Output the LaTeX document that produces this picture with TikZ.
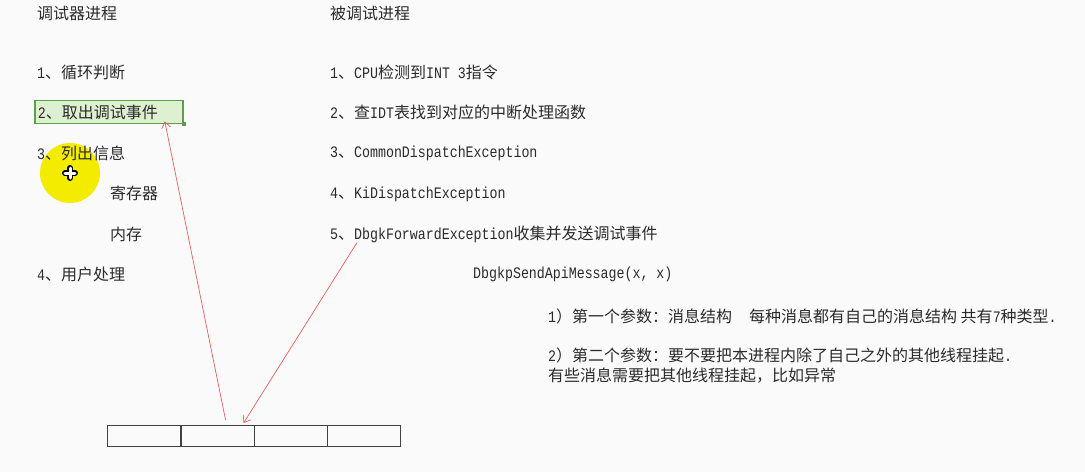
\documentclass[tikz,border=0pt]{standalone}
\usepackage{fontspec}
\setmainfont{Noto Sans CJK SC}
\newfontfamily\monofam[Scale=1.0,FakeStretch=0.83]{Liberation Mono}
\usepackage{tikz}
\usetikzlibrary{arrows.meta}
\usetikzlibrary{positioning}
\definecolor{txtgray}{HTML}{2B2B2B}
\definecolor{selgreen}{HTML}{5E9E4A}
\definecolor{selfill}{HTML}{DDF0D0}
\definecolor{hlyellow}{HTML}{F3EC00}
\definecolor{arrred}{HTML}{E26060}
\newcommand{\asc}[1]{{\monofam #1}}
\tikzset{
  txt/.style={anchor=west, inner sep=0pt, text=txtgray, font=\fontsize{16}{20}\selectfont},
  cell/.style={draw=black!75, line width=1.4pt, minimum width=73.25pt, minimum height=21pt, inner sep=0pt, anchor=north west},
  link/.style={draw=arrred, line width=0.7pt, -{Straight Barb[length=6pt,width=9pt]}},
}

\begin{document}
\begin{tikzpicture}[x=1pt,y=-1pt]
\fill[gray!4] (0,0) rectangle (1085,472);
\useasboundingbox (0,0) rectangle (1085,472);
% mouse highlight
\fill[hlyellow] (70,173) circle[radius=30pt];
\draw[line width=6pt, line cap=round] (65,173) -- (75,173) (70,168) -- (70,178);
\draw[white, line width=3pt, line cap=round] (65,173) -- (75,173) (70,168) -- (70,178);

\node[txt] (dbg) at (37,13) {调试器进程};
\node[txt] (dbgee) at (330,13) {被调试进程};

\node[txt] (l1) at (37,72) {\asc{1}、循环判断};
\node[txt, draw=selgreen, fill=selfill, line width=1.8pt, inner xsep=3pt, text width=142pt, align=left, minimum height=23pt] (l2) at (34,112) {\asc{2}、取出调试事件};
\node[fill=selgreen, minimum size=4pt, inner sep=0pt] (grip) at (l2.south east) {};
\node[txt] (l3) at (37,153) {\asc{3}、列出信息};
\node[txt] (reg) at (110,193) {寄存器};
\node[txt] (mem) at (110,234) {内存};
\node[txt] (l4) at (37,274) {\asc{4}、用户处理};

\node[txt] (r1) at (330,72) {\asc{1}、\asc{CPU}检测到\asc{INT 3}指令};
\node[txt] (r2) at (330,112) {\asc{2}、查\asc{IDT}表找到对应的中断处理函数};
\node[txt] (r3) at (330,153) {\asc{3}、\asc{CommonDispatchException}};
\node[txt] (r4) at (330,194) {\asc{4}、\asc{KiDispatchException}};
\node[txt] (r5) at (330,234) {\asc{5}、\asc{DbgkForwardException}收集并发送调试事件};
\node[txt] (api) at (473,274) {\asc{DbgkpSendApiMessage(x, x)}};
\node[txt] (p1) at (548,316) {\asc{1}）第一个参数：消息结构\hspace{17pt}每种消息都有自己的消息结构 共有\asc{7}种类型\asc{.}};
\node[txt, align=left] (p2) at (548,366) {\asc{2}）第二个参数：要不要把本进程内除了自己之外的其他线程挂起\asc{.}\\有些消息需要把其他线程挂起，比如异常};

% buffer
\foreach \i in {1,...,4}
  \node[cell] (b\i) at ({107+73.25*(\i-1)},425) {};

\coordinate (from1) at ([xshift=8pt,yshift=5pt]b2.north);
\coordinate (from2) at ([xshift=27pt]r5.south west);
\draw[link] (from1) -- ([xshift=-19pt,yshift=3pt]l2.south east);
\draw[link] (from2) -- ([xshift=26pt,yshift=2pt]b2.north);
\end{tikzpicture}
\end{document}
